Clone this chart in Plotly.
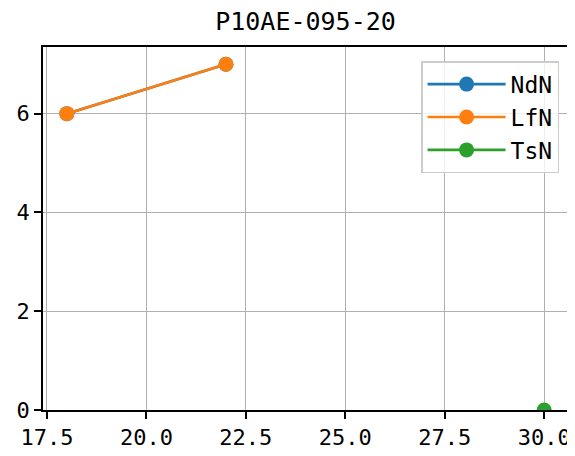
import plotly.graph_objects as go

# Data
series_names = ["NdN", "LfN", "TsN"]
ndn_x = [18, 22]
ndn_y = [6, 7]
lfn_x = [18, 22]
lfn_y = [6, 7]
tsn_x = [30]
tsn_y = [0]
colors = ["#1f77b4", "#ff7f0e", "#2ca02c"]
x_ticks = [17.5, 20.0, 22.5, 25.0, 27.5, 30.0]
y_ticks = [0, 2, 4, 6]
title_text = "P10AE-095-20"

FONT = "DejaVu Sans Mono"
W, H = 567, 448
L, R, T, B = 35, 7, 39, 46

fig = go.Figure()
for name, xs, ys, c in zip(series_names, [ndn_x, lfn_x, tsn_x], [ndn_y, lfn_y, tsn_y], colors):
    fig.add_trace(go.Scatter(
        x=xs, y=ys, name=name, mode="lines+markers",
        line=dict(color=c, width=2.6),
        marker=dict(color=c, size=15),
    ))

axis_common = dict(
    showline=True, linecolor="black", linewidth=1.5, mirror=True,
    ticks="outside", ticklen=7, tickwidth=1.5, tickcolor="black",
    showgrid=True, gridcolor="#b0b0b0", gridwidth=1.3,
    zeroline=False, automargin=False,
    tickfont=dict(family=FONT, size=22, color="black"),
)

fig.update_layout(
    width=W, height=H,
    paper_bgcolor="white", plot_bgcolor="white",
    margin=dict(l=L, r=R, t=T, b=B, autoexpand=False),
    title=dict(text=title_text, x=(L + (W - R)) / 2 / W, xanchor="center",
               y=1 - 4 / H, yanchor="top", pad=dict(t=0, b=0),
               font=dict(family=FONT, size=25, color="black")),
    xaxis=dict(range=[17.4, 30.6], tickvals=x_ticks,
               ticktext=[f"{v:.1f}" for v in x_ticks], **axis_common),
    yaxis=dict(range=[0, 7.35], tickvals=y_ticks,
               ticktext=[str(v) for v in y_ticks], **axis_common),
    legend=dict(x=0.983, y=0.961, xanchor="right", yanchor="top",
                bgcolor="rgba(255,255,255,0.8)", bordercolor="#cccccc", borderwidth=1.5,
                font=dict(family=FONT, size=23, color="black"),
                itemwidth=78),
    showlegend=True,
)

fig.write_html("out.html")
